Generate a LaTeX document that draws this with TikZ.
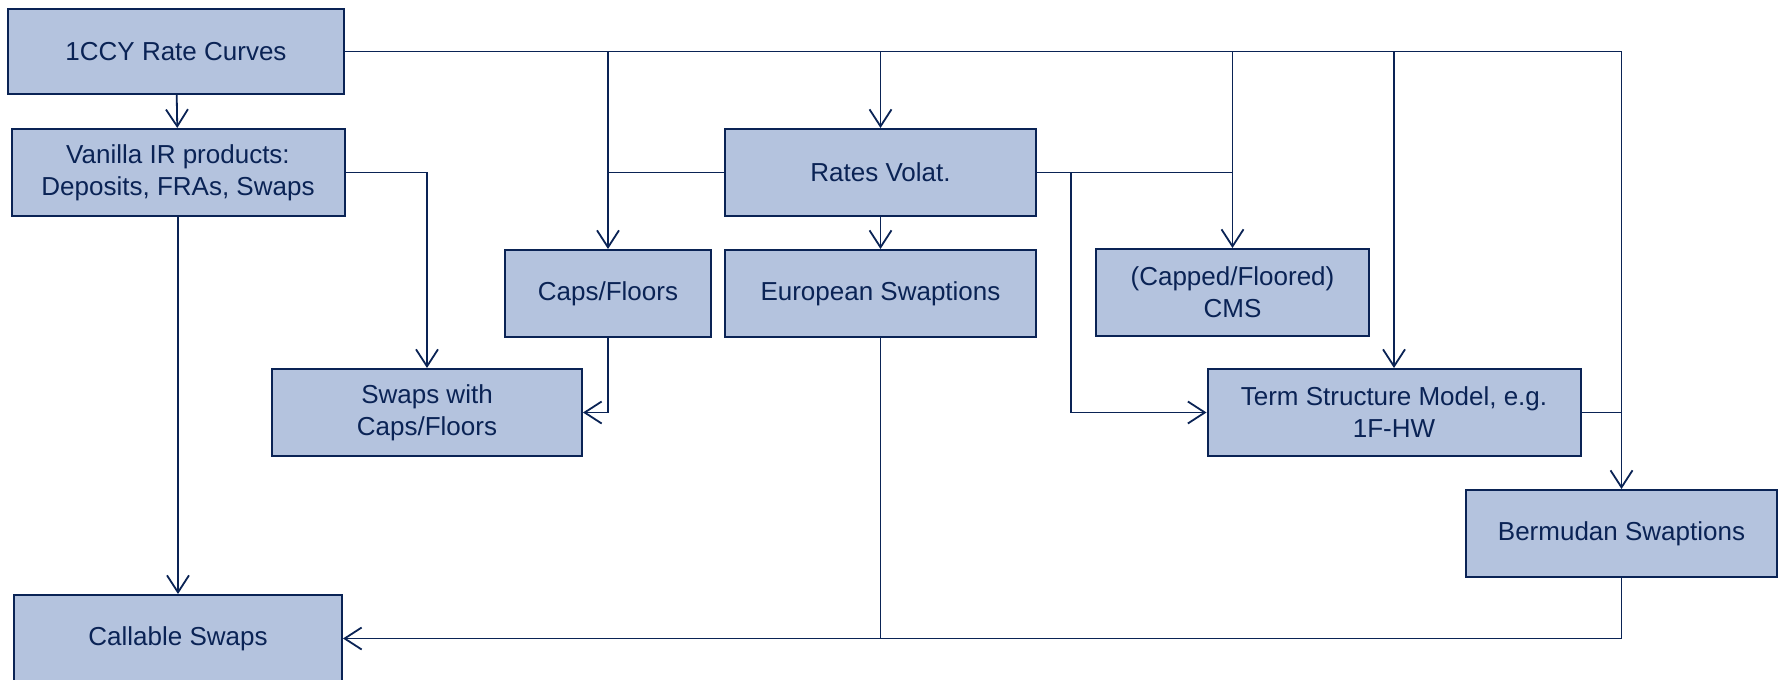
\documentclass[tikz,border=0pt]{standalone}
\usepackage{fontspec}
\setmainfont{Liberation Sans}
\usepackage{xcolor}
\usetikzlibrary{arrows.meta,positioning,calc}
\definecolor{navy}{RGB}{10,35,85}
\definecolor{boxfill}{RGB}{180,195,222}
\tikzset{
    arr/.style={-{Straight Barb[length=8.5pt,width=11pt]}},
    box/.style ={rectangle, draw=navy, fill=boxfill, line width=1pt, text=navy,
                 inner sep=0pt, align=center, minimum height=43.5pt,
                 font=\fontsize{13}{16}\selectfont},
}
\begin{document}
\begin{tikzpicture}[x=0.5pt,y=-0.5pt,color=navy,line width=0.9pt]
        \useasboundingbox (0,0) rectangle (1779,680);
        \node[box, minimum width=168pt, minimum height=42.5pt] (curves) at (176,51.5) {1CCY Rate Curves};
        \node[box, minimum width=166.5pt] (vanilla) at (178,172.5) {Vanilla IR products:\\Deposits, FRAs, Swaps};
        \node[box, minimum width=155.5pt] (volat) at (880.5,172.5) {Rates Volat.};
        \node[box, minimum width=155.5pt] (euro) [below =16pt of volat] {European Swaptions};
        \node[box, minimum width=103pt] (caps) [left =6pt of euro] {Caps/Floors};
        \node[box, minimum width=136.5pt] (cms) at (1232.5,292.5) {(Capped/Floored)\\CMS};
        \node[box, minimum width=155pt] (swapcap) at (427,412.5) {Swaps with\\Caps/Floors};
        \node[box, minimum width=186.5pt] (term) at (1394,412.5) {Term Structure Model, e.g.\\1F-HW};
        \node[box, minimum width=155.5pt] (berm) at (1621.5,533.5) {Bermudan Swaptions};
        \node[box, minimum width=164pt] (callable) at (178,638.5) {Callable Swaps};
        \coordinate (tsbranch) at (1071,172.5);
        \draw (curves.east) -- (curves.east -| berm);
        \draw[arr] (curves) -- (vanilla);
        \draw[arr] (curves.east -| caps) -- (caps);
        \draw[arr] (curves.east -| volat) -- (volat);
        \draw[arr] (curves.east -| cms) -- (cms);
        \draw[arr] (curves.east -| term) -- (term);
        \draw[arr] (curves.east -| berm) -- (berm);
        \draw (volat.west) -- (volat.west -| caps);
        \draw (volat.east) -- (volat.east -| cms);
        \draw[arr] (volat) -- (euro);
        \draw[arr] (tsbranch) |- (term);
        \draw[arr] (vanilla) -| (swapcap);
        \draw[arr] (caps) |- (swapcap);
        \draw (term.east) -- (term.east -| berm);
        \draw[arr] (vanilla) -- (callable);
        \draw (euro) -- (euro |- callable);
        \draw[arr] (berm) |- (callable);
    \end{tikzpicture}
\end{document}
